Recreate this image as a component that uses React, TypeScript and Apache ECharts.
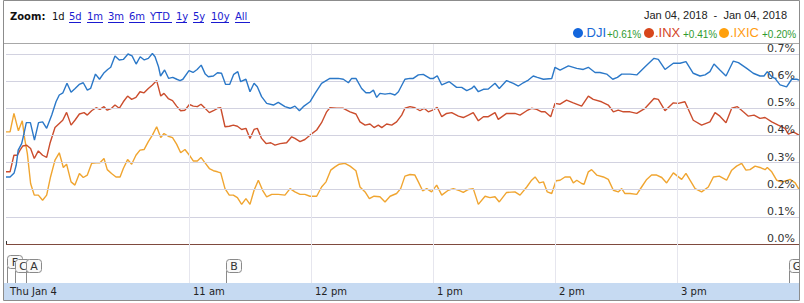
import React, { useEffect, useRef } from "react";
import * as echarts from "echarts";

// minutes after 9:30 open, % change
const djiData: [number, number][] = [
  [0,0.247],[2,0.247],[4,0.262],[5,0.29],[6,0.346],[7.7,0.37],[8.5,0.395],[10,0.447],[12,0.447],[14,0.383],[16,0.447],[18,0.45],[20,0.426],[22.5,0.475],[24.6,0.524],[26.2,0.549],[28,0.557],[30,0.592],[32,0.559],[34,0.573],[36,0.588],[38,0.594],[40,0.567],[41.6,0.573],[44,0.626],[46,0.607],[48,0.629],[50,0.643],[51.5,0.651],[53.6,0.693],[55.7,0.678],[57.7,0.68],[60,0.7],[62,0.693],[64,0.663],[66,0.69],[68,0.678],[70,0.684],[72,0.702],[73.3,0.69],[75,0.653],[76,0.619],[78,0.641],[80,0.61],[82,0.614],[84,0.607],[85.6,0.602],[87,0.607],[90,0.639],[92,0.632],[94,0.643],[96,0.659],[98,0.626],[99.5,0.616],[102,0.619],[104,0.631],[106,0.629],[108,0.588],[110,0.588],[112,0.625],[114,0.635],[115.4,0.598],[118,0.607],[120,0.561],[122,0.592],[123.6,0.579],[125.7,0.543],[128.2,0.518],[131.5,0.512],[133.9,0.522],[137.2,0.506],[139.7,0.5],[142.1,0.508],[144.3,0.491],[146.2,0.506],[149.5,0.524],[152,0.555],[155.2,0.592],[159.3,0.61],[163.4,0.61],[165.9,0.607],[168.4,0.594],[170,0.61],[172.1,0.61],[174.9,0.573],[177,0.557],[179,0.557],[180.7,0.567],[182.3,0.54],[183.9,0.555],[186.4,0.552],[188.9,0.555],[191.3,0.549],[193,0.561],[196.2,0.607],[198.7,0.61],[200.3,0.61],[202.8,0.623],[205.2,0.625],[208.5,0.61],[210.2,0.61],[212.1,0.62],[214.3,0.586],[218,0.598],[221.6,0.577],[224.1,0.577],[226.6,0.565],[229,0.573],[230.2,0.582],[232.3,0.561],[234.8,0.57],[237.2,0.571],[240.5,0.592],[242.6,0.573],[246.2,0.602],[249.5,0.592],[252,0.582],[254.4,0.594],[256.9,0.604],[259.3,0.619],[261.3,0.614],[264.3,0.607],[268.4,0.61],[270,0.651],[272.5,0.641],[276.6,0.656],[280.7,0.647],[283.9,0.643],[286.4,0.651],[289.7,0.632],[292.1,0.632],[295.4,0.626],[298.4,0.607],[300.7,0.614],[302.8,0.626],[306.9,0.626],[310.2,0.623],[314.3,0.653],[318.7,0.684],[320.8,0.68],[324.1,0.643],[328.2,0.666],[331.5,0.666],[334.4,0.672],[338,0.629],[341.3,0.619],[343.8,0.623],[346.2,0.635],[348.2,0.663],[351.1,0.641],[354.1,0.619],[357.7,0.674],[360.2,0.668],[364.3,0.647],[367.5,0.629],[370.8,0.619],[372.8,0.619],[374.4,0.635],[376.6,0.616],[378.2,0.61],[380.7,0.586],[383.9,0.579],[386.4,0.607],[388.9,0.607],[390,0.604]
];

const inxData: [number, number][] = [
  [0,0.266],[2,0.266],[3.9,0.327],[5.6,0.327],[6.9,0.346],[8.2,0.361],[10.2,0.364],[12.1,0.352],[13.9,0.315],[15.9,0.343],[18,0.327],[20,0.319],[21.6,0.37],[24.1,0.429],[26.2,0.444],[27.9,0.456],[29.8,0.485],[32,0.438],[33.9,0.456],[36.1,0.479],[38.4,0.484],[40,0.475],[42.1,0.491],[44.3,0.502],[46.2,0.496],[48.2,0.506],[49.8,0.493],[51.9,0.5],[53.6,0.512],[55.7,0.5],[57.7,0.524],[59.8,0.545],[61.8,0.533],[63.9,0.54],[65.9,0.561],[67.9,0.557],[70,0.573],[72,0.586],[74.1,0.602],[76.1,0.545],[77.7,0.555],[79.8,0.536],[81.9,0.528],[83.9,0.508],[85.9,0.491],[88,0.493],[90.2,0.514],[92.1,0.508],[94.1,0.506],[95.9,0.515],[97.9,0.5],[100,0.484],[102,0.491],[104,0.5],[105.6,0.502],[107.7,0.432],[109.8,0.434],[111.8,0.438],[113.8,0.434],[115.9,0.422],[118,0.426],[120,0.389],[122,0.422],[123.6,0.426],[125.7,0.389],[127.9,0.37],[130.2,0.373],[132.3,0.364],[134.8,0.37],[138,0.373],[140.5,0.395],[142.1,0.389],[144.6,0.377],[147,0.385],[149.5,0.401],[152.8,0.42],[155.2,0.447],[157.7,0.487],[159.3,0.502],[162.6,0.5],[165.9,0.5],[169.2,0.487],[172.1,0.479],[174.1,0.45],[176.6,0.438],[179,0.442],[181,0.429],[183.1,0.438],[184.8,0.429],[187.2,0.442],[189.7,0.438],[192.1,0.45],[194.6,0.475],[196.2,0.5],[198.7,0.506],[201.1,0.502],[203.6,0.491],[205.6,0.5],[207.7,0.487],[209.8,0.493],[212.1,0.503],[214.3,0.469],[216.7,0.481],[219.2,0.484],[222.5,0.471],[224.9,0.466],[227.4,0.475],[229.8,0.484],[232.3,0.454],[234.8,0.469],[237.2,0.469],[240.5,0.484],[242.1,0.459],[246.2,0.481],[250.3,0.481],[252.8,0.475],[256.1,0.491],[258.5,0.5],[261,0.496],[263.4,0.487],[265.1,0.487],[267.9,0.469],[270,0.518],[272.5,0.515],[275.7,0.53],[279,0.52],[283.1,0.508],[286.4,0.545],[288.8,0.533],[292.9,0.524],[296.2,0.512],[298.7,0.487],[301.1,0.493],[303.6,0.487],[306.9,0.487],[310.2,0.481],[314.3,0.5],[318.7,0.536],[320.8,0.533],[324.1,0.491],[328.2,0.52],[330.6,0.518],[333.9,0.524],[338,0.456],[342.1,0.438],[346.2,0.45],[348.7,0.484],[351.1,0.471],[354.1,0.447],[356.9,0.5],[359.7,0.506],[362.6,0.487],[365.1,0.471],[367.9,0.475],[370.8,0.463],[373.3,0.466],[376.6,0.45],[379.8,0.438],[383.1,0.426],[384.8,0.405],[387.2,0.413],[390,0.401]
];

const ixicData: [number, number][] = [
  [0,0.413],[2,0.413],[3.9,0.481],[6.1,0.417],[8,0.454],[9.3,0.383],[10.5,0.333],[12.1,0.223],[13.9,0.18],[15.9,0.18],[18,0.161],[20,0.18],[21.9,0.247],[24.1,0.309],[26.2,0.336],[28.2,0.282],[29.8,0.294],[32,0.229],[33.9,0.217],[36.1,0.26],[38,0.245],[40,0.254],[42.1,0.297],[44.3,0.299],[46.2,0.299],[48.2,0.315],[49.8,0.274],[51.9,0.26],[54.1,0.247],[56.1,0.247],[57.7,0.278],[59.8,0.311],[61.8,0.294],[63.9,0.327],[65.9,0.346],[67.9,0.348],[70,0.377],[72,0.401],[74.1,0.432],[76.1,0.392],[77.7,0.407],[79.8,0.397],[81.9,0.392],[83.9,0.368],[85.9,0.336],[88,0.348],[90.2,0.327],[92.1,0.306],[94.1,0.306],[95.9,0.319],[97.9,0.299],[100,0.278],[102,0.27],[104,0.266],[105.6,0.262],[107.7,0.204],[109.8,0.18],[111.8,0.18],[113.8,0.171],[115.9,0.146],[118,0.167],[120,0.146],[122,0.198],[124.1,0.235],[126.2,0.198],[128.2,0.174],[130.7,0.183],[133.9,0.183],[137.2,0.18],[139.7,0.204],[142.1,0.192],[144.6,0.183],[147,0.183],[149.5,0.176],[152.8,0.176],[155.2,0.21],[157.4,0.229],[159.7,0.272],[161.8,0.284],[163.9,0.294],[166.7,0.297],[169.2,0.287],[172.1,0.27],[174.1,0.21],[176.6,0.192],[178.7,0.167],[181,0.176],[183.9,0.174],[186.4,0.155],[188.9,0.176],[192.1,0.186],[194.1,0.204],[196.2,0.25],[198.7,0.256],[201.1,0.254],[202.8,0.229],[204.9,0.196],[206.9,0.204],[209.3,0.192],[211.8,0.217],[214.3,0.18],[217.5,0.198],[220,0.204],[223.3,0.196],[224.9,0.19],[227.4,0.201],[229.8,0.204],[232.3,0.146],[235.6,0.176],[238,0.171],[240.5,0.174],[242.6,0.155],[246.2,0.19],[250.3,0.192],[252.8,0.18],[256.1,0.21],[258.5,0.235],[260.2,0.247],[262.3,0.225],[264.3,0.229],[266.2,0.192],[268.4,0.186],[270.5,0.233],[272.5,0.235],[274.9,0.247],[277.4,0.247],[279,0.225],[280.7,0.235],[283.1,0.223],[284.3,0.22],[286.4,0.266],[288,0.274],[290.5,0.254],[293.8,0.247],[296.2,0.238],[298.7,0.198],[301.1,0.192],[302.8,0.204],[304.4,0.186],[306.9,0.186],[310.2,0.183],[312.6,0.21],[315.1,0.238],[317.5,0.254],[320,0.254],[322.5,0.245],[324.9,0.225],[328.2,0.262],[332.3,0.238],[334.4,0.26],[336.4,0.235],[338.9,0.204],[342.1,0.192],[345.4,0.21],[347.9,0.247],[350.8,0.25],[354.4,0.235],[356.9,0.272],[359.3,0.287],[361.8,0.297],[363.9,0.272],[365.9,0.274],[368.4,0.287],[370.8,0.282],[373.3,0.274],[374.4,0.282],[376.6,0.266],[379,0.235],[381.5,0.229],[383.9,0.233],[385.6,0.238],[388.1,0.225],[390,0.201]
];

const seriesNames = [".DJI", ".INX", ".IXIC"];
const seriesChanges = ["+0.61%", "+0.41%", "+0.20%"];

const hourTicks = [0, 90, 150, 210, 270, 330];
const hourLabels = ["Thu Jan 4", "11 am", "12 pm", "1 pm", "2 pm", "3 pm"];
const gridHours = [90, 150, 210, 270, 330];

const yTicks = [0, 0.1, 0.2, 0.3, 0.4, 0.5, 0.6, 0.7];
const yLabels = ["0.0%", "0.1%", "0.2%", "0.3%", "0.4%", "0.5%", "0.6%", "0.7%"];

const flagTimes = [0.5, 4.4, 10, 108, 385];
const flagLetters = ["F", "C", "A", "B", "G"];

const zoomLinks = ["5d", "1m", "3m", "6m", "YTD", "1y", "5y", "10y", "All"];
const dateRange = "Jan 04, 2018  -  Jan 04, 2018";

const LINE_COLORS = ["#2b78c8", "#cb4d2d", "#f0a530"];
const DOT_COLORS = ["#1366dc", "#d7461c", "#ffa00c"];
const NAME_COLORS = ["#1a6ad6", "#d4461f", "#ff9c12"];
const FONT = "DejaVu Sans";
const AFONT = "Liberation Sans";

export default function App() {
  const ref = useRef<HTMLDivElement>(null);
  useEffect(() => {
    if (!ref.current) return;
    const chart = echarts.init(ref.current, null, { renderer: "svg" });

    const linkX = [69, 87, 108, 129, 150, 176, 193, 211, 235];
    const linkW = [12, 16, 16, 16, 22, 11, 11, 18, 15];
    const header: any[] = [
      { type: "text", x: 10, y: 16, z: 10, style: { text: "Zoom:", font: `bold 10px "${FONT}"`, fill: "#111", textVerticalAlign: "middle", verticalAlign: "middle" } },
      { type: "text", x: 52, y: 16, z: 10, style: { text: "1d", font: `10px "${FONT}"`, fill: "#111", textVerticalAlign: "middle", verticalAlign: "middle" } },
    ];
    zoomLinks.forEach((t, i) => {
      header.push({ type: "text", x: linkX[i], y: 16, z: 10, style: { text: t, font: `10px "${FONT}"`, fill: "#1a1ad0", textVerticalAlign: "middle", verticalAlign: "middle" } });
      header.push({ type: "line", z: 10, shape: { x1: linkX[i], y1: 22.5, x2: linkX[i] + linkW[i], y2: 22.5 }, style: { stroke: "#1a1ad0", lineWidth: 1 } });
    });
    header.push({ type: "text", x: 787, y: 15, z: 10, style: { text: dateRange, font: `11px "${AFONT}"`, fill: "#222", textAlign: "right", align: "right", textVerticalAlign: "middle", verticalAlign: "middle" } });
    const dotX = [578, 649, 724];
    const nameX = [583, 655, 730];
    const chgX = [607, 683, 762];
    seriesNames.forEach((n, i) => {
      header.push({ type: "circle", z: 10, shape: { cx: dotX[i], cy: 33, r: 5 }, style: { fill: DOT_COLORS[i] } });
      header.push({ type: "text", x: nameX[i], y: 32, z: 10, style: { text: n, font: `13px "${AFONT}"`, fill: NAME_COLORS[i], textVerticalAlign: "middle", verticalAlign: "middle" } });
      header.push({ type: "text", x: chgX[i], y: 34, z: 10, style: { text: seriesChanges[i], font: `10px "${AFONT}"`, fill: "#2f9a2f", textVerticalAlign: "middle", verticalAlign: "middle" } });
    });

    const frame: any[] = [
      { type: "rect", z: -1, shape: { x: 4, y: 283, width: 795, height: 17 }, style: { fill: "#c6daf2" } },
      { type: "line", z: 50, shape: { x1: 3, y1: 43.5, x2: 799, y2: 43.5 }, style: { stroke: "#a8a8a8", lineWidth: 1 } },
      { type: "rect", z: 50, shape: { x: 3.5, y: 0.5, width: 796, height: 300 }, style: { fill: "none", stroke: "#8c8c8c", lineWidth: 1 } },
    ];

    const option: any = {
      animation: false,
      backgroundColor: "#ffffff",
      grid: { left: 6, right: 5, top: 43, bottom: 20, containLabel: false },
      xAxis: {
        type: "value",
        min: 0,
        max: 390,
        axisLine: { show: false },
        splitLine: { show: false },
        axisTick: { show: true, inside: true, length: 3, customValues: hourTicks, lineStyle: { color: "#333" } },
        axisLabel: {
          customValues: hourTicks,
          formatter: (v: number) => {
            const i = hourTicks.indexOf(v);
            return i >= 0 ? hourLabels[i] : "";
          },
          align: "left",
          margin: 3,
          padding: [0, 0, 0, 4],
          color: "#222",
          fontSize: 10,
          fontFamily: FONT,
        },
      },
      yAxis: {
        type: "value",
        min: -0.14368,
        max: 0.74053,
        show: false,
        splitLine: { show: false },
      },
      graphic: [...frame, ...header],
      series: [
        {
          type: "line",
          name: "hgrid",
          data: [[0, 0]],
          showSymbol: false,
          silent: true,
          z: 1,
          lineStyle: { width: 0 },
          markLine: {
            silent: true,
            symbol: ["none", "none"],
            animation: false,
            label: { position: "insideEndTop", distance: [4, 0], color: "#333", fontSize: 11, fontFamily: FONT },
            data: yTicks.map((v, i) => ({
              yAxis: v,
              lineStyle: { color: v === 0 ? "#7f4a3e" : "#d2d2e0", type: "solid", width: 1 },
              label: { formatter: yLabels[i] },
            })),
          },
        },
        {
          type: "line",
          name: "vgrid",
          data: [[0, 0]],
          showSymbol: false,
          silent: true,
          z: 1,
          lineStyle: { width: 0 },
          markLine: {
            silent: true,
            symbol: ["none", "none"],
            animation: false,
            label: { show: false },
            data: gridHours.map((h) => ({ xAxis: h, lineStyle: { color: "#e6e6ee", type: "solid", width: 1 } })),
          },
        },
        ...[djiData, inxData, ixicData].map((d, i) => ({
          type: "line",
          name: seriesNames[i],
          data: d,
          showSymbol: false,
          z: 3 + (2 - i),
          lineStyle: { color: LINE_COLORS[i], width: 1.4 },
        })),
        {
          type: "custom",
          name: "flags",
          data: flagTimes.map((t) => [t, 0]),
          clip: true,
          z: 6,
          renderItem: (params: any, api: any) => {
            const x = Math.round(api.coord([api.value(0), 0])[0]) + 0.5;
            const cs = params.coordSys;
            const bottom = cs.y + cs.height;
            const top = params.dataIndex === 0 ? bottom - 28 : bottom - 24;
            const letter = flagLetters[params.dataIndex];
            return {
              type: "group",
              children: [
                { type: "line", shape: { x1: x, y1: top + 12, x2: x, y2: bottom }, style: { stroke: "#8a8a8a", lineWidth: 1 } },
                { type: "rect", shape: { x: x, y: top + 0.5, width: 15, height: 13, r: 3 }, style: { fill: "#f9f9f9", stroke: "#8a8a8a", lineWidth: 1 } },
                { type: "text", style: { text: letter, x: x + 7.5, y: top + 7.5, textAlign: "center", align: "center", textVerticalAlign: "middle", verticalAlign: "middle", font: `11px "${FONT}"`, fill: "#333" } },
              ],
            };
          },
        },
      ],
    };
    chart.setOption(option);
    return () => chart.dispose();
  }, []);
  return <div ref={ref} style={{ position: "absolute", left: 0, top: 0, width: 804, height: 303 }} />;
}
